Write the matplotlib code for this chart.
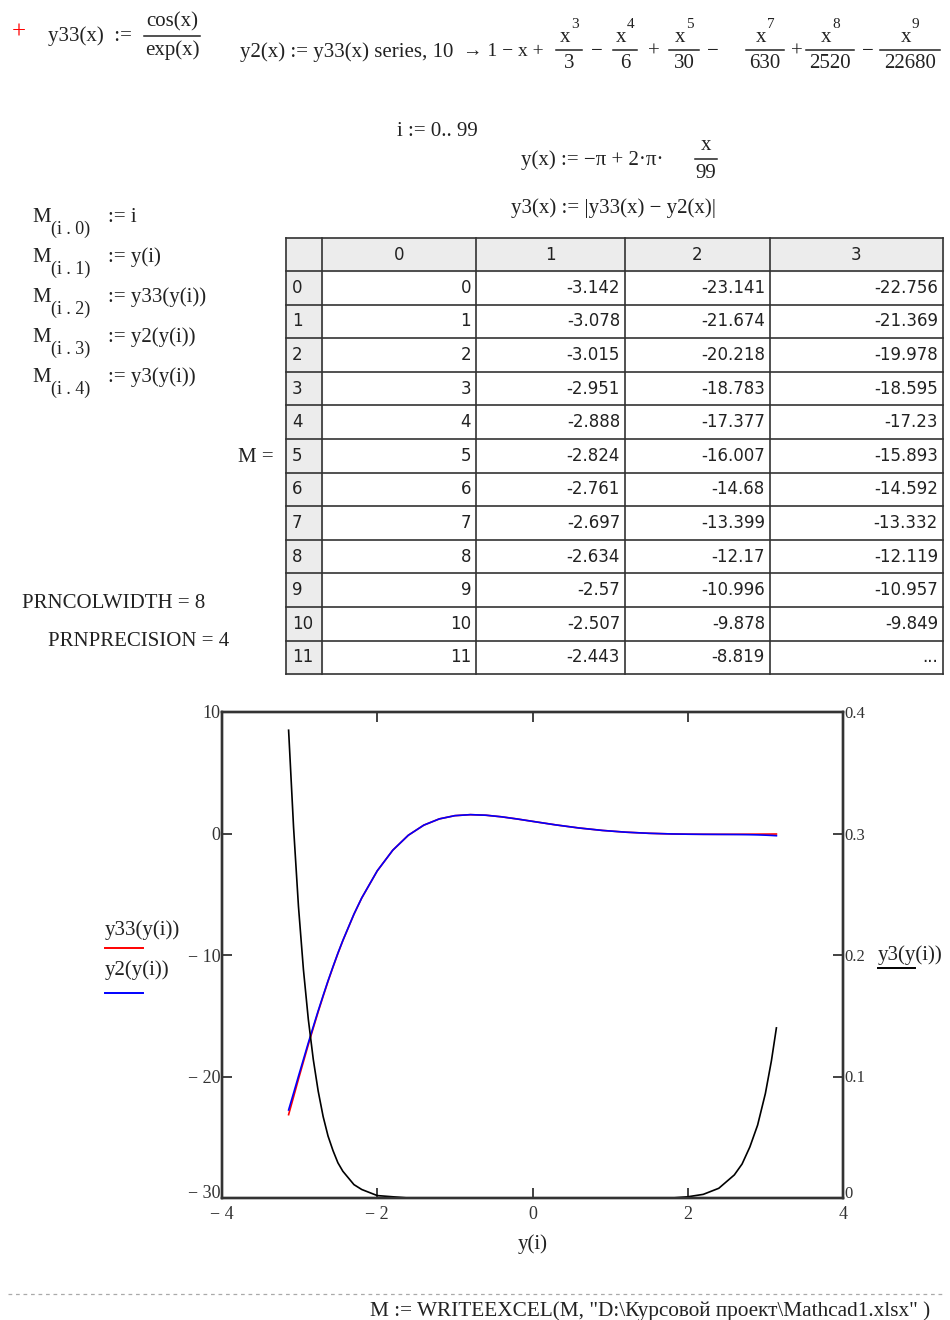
import matplotlib.pyplot as plt
from matplotlib.ticker import FuncFormatter

# points (x = y(i))
x_vals = [-3.142, -3.078, -3.015, -2.951, -2.888, -2.824, -2.761, -2.697, -2.634, -2.570,
          -2.507, -2.443, -2.3, -2.2, -2.0, -1.8, -1.6, -1.4, -1.2, -1.0, -0.8, -0.6,
          -0.4, -0.2, 0.0, 0.3, 0.6, 0.9, 1.2, 1.5, 1.8, 2.0, 2.2, 2.4, 2.6, 2.7, 2.8,
          2.9, 3.0, 3.078, 3.142]
y33_vals = [-23.141, -21.674, -20.218, -18.783, -17.377, -16.007, -14.68, -13.399, -12.17,
            -10.996, -9.878, -8.819, -6.646, -5.31, -3.075, -1.375, -0.145, 0.689, 1.203,
            1.469, 1.551, 1.504, 1.374, 1.197, 1.0, 0.708, 0.453, 0.253, 0.109, 0.016,
            -0.038, -0.056, -0.065, -0.067, -0.064, -0.061, -0.057, -0.053, -0.049,
            -0.046, -0.043]
y2_vals = [-22.756, -21.369, -19.978, -18.595, -17.23, -15.893, -14.592, -13.332, -12.119,
           -10.957, -9.849, -8.797, -6.635, -5.303, -3.073, -1.374, -0.145, 0.689, 1.203,
           1.469, 1.551, 1.504, 1.374, 1.197, 1.0, 0.708, 0.453, 0.253, 0.109, 0.016,
           -0.038, -0.058, -0.068, -0.075, -0.083, -0.089, -0.099, -0.114, -0.136,
           -0.159, -0.183]
y3_vals = [0.385, 0.305, 0.240, 0.188, 0.147, 0.114, 0.088, 0.067, 0.051, 0.039, 0.029,
           0.022, 0.011, 0.007, 0.002, 0.001, 0.0, 0.0, 0.0, 0.0, 0.0, 0.0, 0.0, 0.0, 0.0,
           0.0, 0.0, 0.0, 0.0, 0.0, 0.0, 0.001, 0.003, 0.008, 0.019, 0.028, 0.042, 0.060,
           0.086, 0.113, 0.140]

# matrix M as shown
tbl_idx = list(range(12))
tbl_col1 = ["-3.142", "-3.078", "-3.015", "-2.951", "-2.888", "-2.824", "-2.761", "-2.697",
            "-2.634", "-2.57", "-2.507", "-2.443"]
tbl_col2 = ["-23.141", "-21.674", "-20.218", "-18.783", "-17.377", "-16.007", "-14.68",
            "-13.399", "-12.17", "-10.996", "-9.878", "-8.819"]
tbl_col3 = ["-22.756", "-21.369", "-19.978", "-18.595", "-17.23", "-15.893", "-14.592",
            "-13.332", "-12.119", "-10.957", "-9.849", "..."]
tbl_head = ["0", "1", "2", "3"]

x_ticks = [-4, -2, 0, 2, 4]
left_ticks = [-30, -20, -10, 0, 10]
right_ticks = [0, 0.1, 0.2, 0.3, 0.4]

SERIF = "Liberation Serif"
FS = 15

fig = plt.figure(figsize=(9.5, 13.2), dpi=100)
page = fig.add_axes([0, 0, 1, 1])
page.set_xlim(0, 950)
page.set_ylim(1320, 0)
page.axis("off")


def txt(x, y, s, fs=FS, ha="left", color="#222222", **kw):
    page.text(x, y, s, fontsize=fs, ha=ha, va="center", family=SERIF, color=color, **kw)


def frac(cx, y_line, num, den, half_w, fs=FS, sup=None):
    if sup is None:
        txt(cx, y_line - 14, num, fs, ha="center")
    else:
        txt(cx + 1, y_line - 12, num, fs, ha="right")
        txt(cx + 2, y_line - 25, sup, fs - 4, ha="left")
    txt(cx, y_line + 14, den, fs, ha="center")
    page.plot([cx - half_w, cx + half_w], [y_line, y_line], color="#222222", lw=1.1)


# header formulas
txt(12, 33, "+", 18, color="red")
txt(48, 36, "y33(x)  :=")
frac(172, 36, "cos(x)", "exp(x)", 28)

txt(240, 52, "y2(x) := y33(x) series, 10")
txt(463, 52, "\u2192 1 \u2212 x +", 14)
terms = [(569, "3", "3", 13), (625, "4", "6", 12), (684, "5", "30", 15),
         (765, "7", "630", 19), (830, "8", "2520", 24), (910, "9", "22680", 30)]
ops = [597, 654, 713, 797, 868]
op_sym = ["\u2212", "+", "\u2212", "+", "\u2212"]
for cx, p, d, hw in terms:
    frac(cx, 50, "x", d, hw, sup=p)
for ox, s in zip(ops, op_sym):
    txt(ox, 52, s, ha="center")

txt(397, 131, "i := 0.. 99")
txt(521, 160, "y(x) := \u2212\u03c0 + 2\u00b7\u03c0\u00b7")
frac(706, 159, "x", "99", 11)
txt(511, 208, "y3(x) := |y33(x) \u2212 y2(x)|")

m_rows = ["i", "y(i)", "y33(y(i))", "y2(y(i))", "y3(y(i))"]
for k, rhs in enumerate(m_rows):
    yy = 217 + k * 40
    txt(32, yy, "M")
    txt(51, yy + 12, "(i . %d)" % k, 13)
    txt(108, yy, ":= " + rhs)

txt(238, 457, "M =")
txt(22, 604, "PRNCOLWIDTH = 8")
txt(48, 641, "PRNPRECISION = 4")

# matrix table
col_edges = [286, 322, 476, 625, 770, 943]
top, hdr_h, row_h = 238, 33, 33.6
bottom = top + hdr_h + row_h * len(tbl_idx)
page.add_patch(plt.Rectangle((286, top), 943 - 286, hdr_h, color="#ececec", zorder=0))
page.add_patch(plt.Rectangle((286, top), 322 - 286, bottom - top, color="#ececec", zorder=0))
for ce in col_edges:
    page.plot([ce, ce], [top, bottom], color="#333333", lw=1.2)
rows_y = [top, top + hdr_h] + [top + hdr_h + row_h * (r + 1) for r in tbl_idx]
for ry in rows_y:
    page.plot([286, 943], [ry, ry], color="#333333", lw=1.2)
cfont = dict(fontsize=12, family="DejaVu Sans", va="center", color="#222222")
for j, h in enumerate(tbl_head):
    page.text((col_edges[j + 1] + col_edges[j + 2]) / 2, top + hdr_h / 2, h, ha="center", **cfont)
for r in tbl_idx:
    cy = top + hdr_h + row_h * (r + 0.5)
    page.text(292, cy, str(r), ha="left", **cfont)
    page.text(col_edges[2] - 5, cy, str(tbl_idx[r]), ha="right", **cfont)
    page.text(col_edges[3] - 5, cy, tbl_col1[r], ha="right", **cfont)
    page.text(col_edges[4] - 5, cy, tbl_col2[r], ha="right", **cfont)
    page.text(col_edges[5] - 5, cy, tbl_col3[r], ha="right", **cfont)

# legends beside the plot
txt(105, 930, "y33(y(i))")
page.plot([105, 143], [948, 948], color="red", lw=1.4)
txt(105, 970, "y2(y(i))")
page.plot([105, 143], [993, 993], color="blue", lw=1.4)
txt(878, 955, "y3(y(i))")
page.plot([878, 915], [968, 968], color="black", lw=1.4)

# separator and WRITEEXCEL line
page.plot([8, 945], [1294, 1294], color="#aaaaaa", lw=0.9, ls=(0, (3, 3)))
txt(370, 1311, "M := WRITEEXCEL(M, \"D:\\Курсовой проект\\Mathcad1.xlsx\" )", 15.3)

# plot region
ax = fig.add_axes([222 / 950, 1 - 1198 / 1320, (843 - 222) / 950, (1198 - 712) / 1320])
ax.plot(x_vals, y33_vals, color="red", lw=1.2)
ax.plot(x_vals, y2_vals, color="blue", lw=1.2)
ax.set_xlim(-4, 4)
ax.set_ylim(-30, 10)
ax.set_xticks(x_ticks)
ax.set_yticks(left_ticks)
ax2 = ax.twinx()
ax2.plot(x_vals, y3_vals, color="black", lw=1.2)
ax2.set_ylim(0, 0.4)
ax2.set_yticks(right_ticks)

fmt_int = FuncFormatter(lambda v, p: ("\u2212 %d" % abs(v)) if v < 0 else "%d" % v)
fmt_r = FuncFormatter(lambda v, p: "0" if v == 0 else ("%.1f" % v))
ax.xaxis.set_major_formatter(fmt_int)
ax.yaxis.set_major_formatter(fmt_int)
ax2.yaxis.set_major_formatter(fmt_r)
for a in (ax, ax2):
    for s in a.spines.values():
        s.set_color("#333333")
        s.set_linewidth(1.7)
ax.tick_params(axis="x", direction="in", top=True, length=7, width=1.3, pad=6,
               labelsize=13, labelfontfamily=SERIF, colors="#333333")
ax.tick_params(axis="y", direction="in", length=7, width=1.3, pad=1,
               labelsize=13, labelfontfamily=SERIF, colors="#333333")
ax2.tick_params(axis="y", direction="in", length=7, width=1.3, pad=1,
                labelsize=12, labelfontfamily=SERIF, colors="#333333")
# keep the bottom corner labels clear of the x labels
ax.yaxis.get_major_ticks()[0].label1.set_va("baseline")
ax2.yaxis.get_major_ticks()[0].label2.set_va("baseline")
ax.set_xlabel("y(i)", fontsize=FS, family=SERIF, labelpad=8, color="#222222")

fig.savefig("out.png", dpi=100)
